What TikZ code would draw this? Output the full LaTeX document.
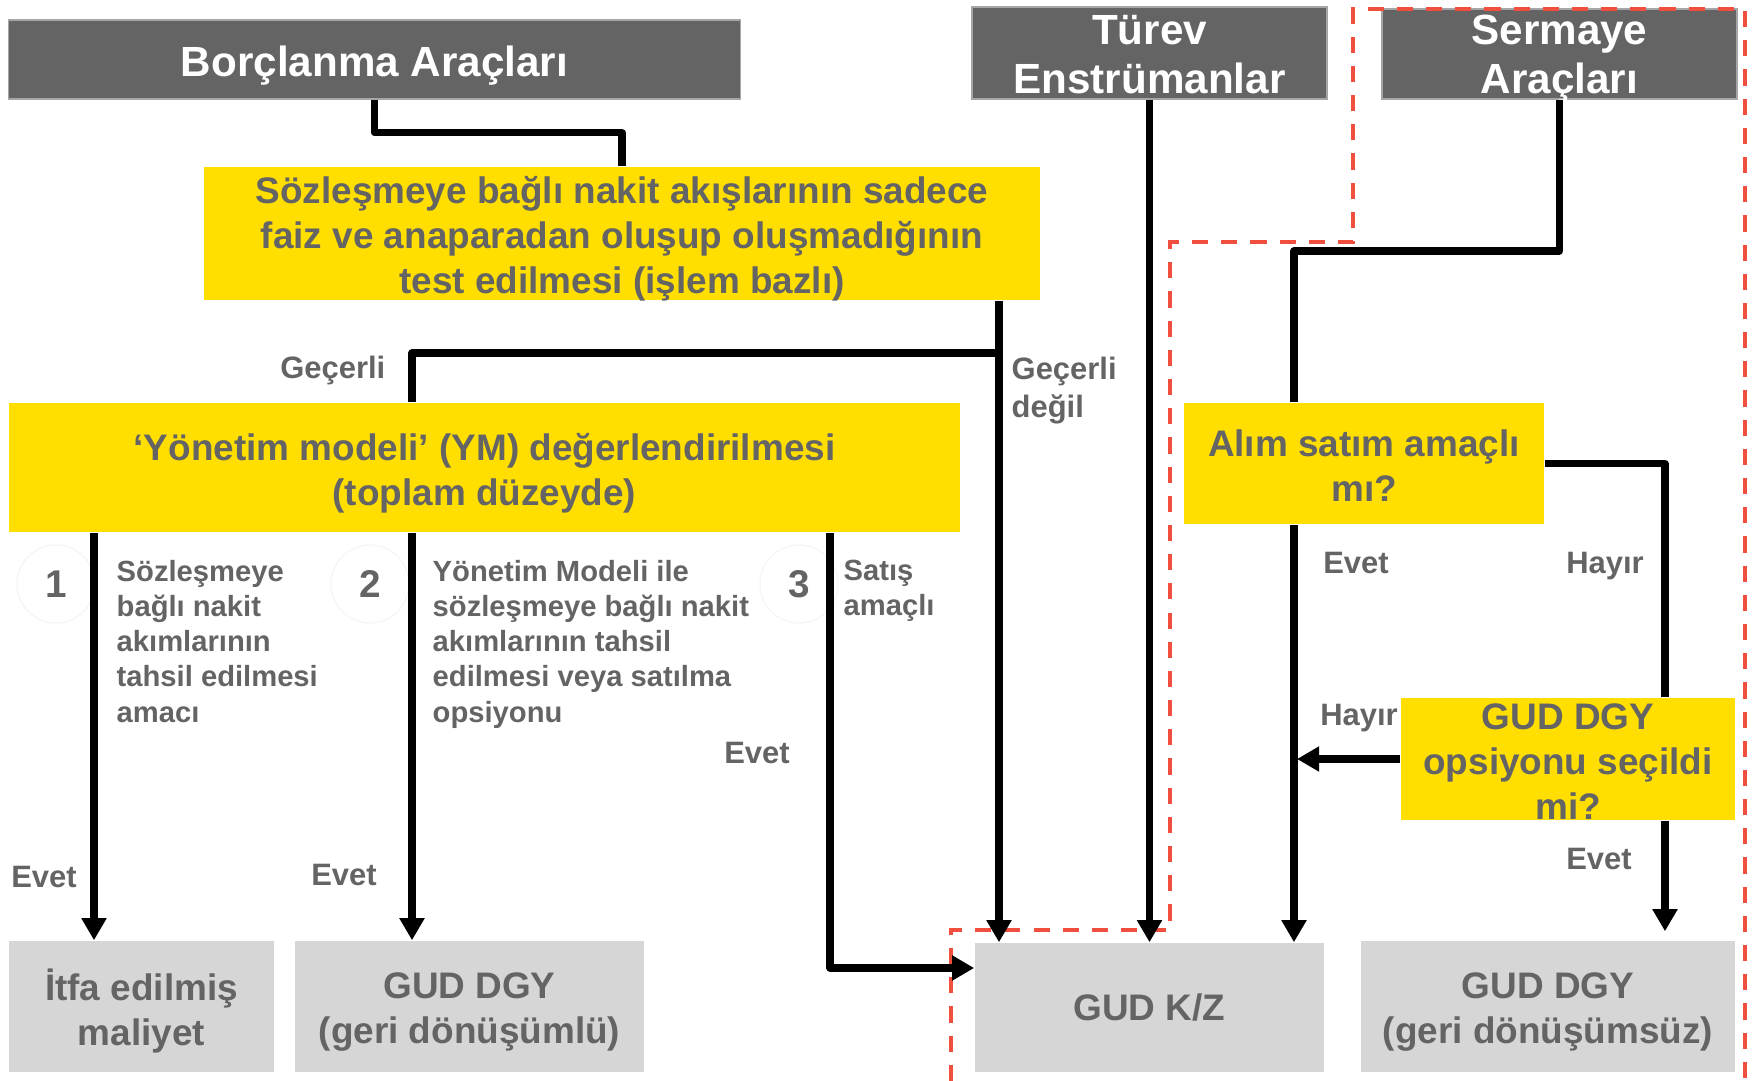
\documentclass[tikz,border=0pt]{standalone}
\usepackage{fontspec}
\setmainfont{Liberation Sans}
\usetikzlibrary{arrows.meta}
\definecolor{hdrgray}{RGB}{100,100,100}
\definecolor{txtgray}{RGB}{100,100,100}
\definecolor{boxyellow}{RGB}{255,222,0}
\definecolor{boxgray}{RGB}{214,214,214}
\definecolor{dashred}{RGB}{240,78,62}
\tikzset{
hdr/.style={fill=hdrgray, draw=gray!70, line width=0.4pt},
hdrtxt/.style={text=white, align=center, inner sep=0pt, font=\fontsize{12}{14}\selectfont\bfseries},
ybox/.style={fill=boxyellow},
gbox/.style={fill=boxgray},
btxt/.style={text=txtgray, align=center, inner sep=0pt, font=\fontsize{10.5}{12.8}\selectfont\bfseries},
lbl/.style={text=txtgray, inner sep=0pt, align=left, font=\fontsize{8.8}{10.8}\selectfont\bfseries},
desc/.style={text=txtgray, inner sep=0pt, align=left, anchor=north west, font=\fontsize{8.3}{10}\selectfont\bfseries},
numc/.style={circle, draw=gray!7, minimum size=0.78cm, text=txtgray, font=\fontsize{11}{13}\selectfont\bfseries},
conn/.style={line width=2pt, line join=round},
arr/.style={conn, -{Triangle[length=6.3pt,width=6.8pt]}},
reddash/.style={dashred, line width=1.1pt, dash pattern=on 4.6pt off 3.7pt}
}
\begin{document}
\begin{tikzpicture}[x=0.01cm, y=-0.01cm]
\useasboundingbox (0,0) rectangle (1756,1081);

%headers
\node[hdr, minimum width=7.31cm, minimum height=0.79cm] (borc) at (374.5,59.5) {};
\node[hdrtxt, yshift=-1.6pt] (borctxt) at (borc) {Borçlanma Araçları};
\node[hdr, minimum width=3.55cm, minimum height=0.92cm] (turev) at (1149.5,53) {};
\node[hdrtxt, yshift=-0.5pt] (turevtxt) at (turev) {Türev\\Enstrümanlar};
\node[hdr, minimum width=3.55cm, minimum height=0.90cm] (serm) at (1559.5,54) {};
\node[hdrtxt, yshift=-1.3pt] (sermtxt) at (serm) {Sermaye\\Araçları};

%yellow boxes
\node[ybox, minimum width=8.36cm, minimum height=1.33cm] (test) at (622,233.5) {};
\node[btxt, yshift=-1.6pt] (testtxt) at (test)
  {Sözleşmeye bağlı nakit akışlarının sadece\\faiz ve anaparadan oluşup oluşmadığının\\test edilmesi (işlem bazlı)};
\node[ybox, minimum width=9.51cm, minimum height=1.29cm] (ym) at (484.5,467.5) {};
\node[btxt, yshift=-1.6pt] (ymtxt) at (ym) {‘Yönetim modeli’ (YM) değerlendirilmesi\\(toplam düzeyde)};
\node[ybox, minimum width=3.60cm, minimum height=1.21cm] (alim) at (1364,463.5) {};
\node[btxt, yshift=-0.6pt] (alimtxt) at (alim) {Alım satım amaçlı\\mı?};
\node[ybox, minimum width=3.34cm, minimum height=1.22cm] (gudopt) at (1568,759) {};
\node[btxt, yshift=-0.6pt] (gudopttxt) at (gudopt) {GUD DGY\\opsiyonu seçildi\\mi?};

%results
\node[gbox, minimum width=2.65cm, minimum height=1.31cm] (itfa) at (141.5,1006.5) {};
\node[btxt, yshift=-1.3pt] (itfatxt) at (itfa) {İtfa edilmiş\\maliyet};
\node[gbox, minimum width=3.49cm, minimum height=1.31cm] (dgya) at (469.5,1006.5) {};
\node[btxt, yshift=-1.6pt] (dgyatxt) at (dgya) {GUD DGY\\(geri dönüşümlü)};
\node[gbox, minimum width=3.49cm, minimum height=1.29cm] (kz) at (1149.5,1007.5) {};
\node[btxt] (kztxt) at (kz) {GUD K/Z};
\node[gbox, minimum width=3.74cm, minimum height=1.31cm] (dgyb) at (1548,1006.5) {};
\node[btxt, yshift=-1.6pt] (dgybtxt) at (dgyb) {GUD DGY\\(geri dönüşümsüz)};

%numbers
\foreach \n/\x in {1/56,2/370,3/799}
{ \node[numc] (num\n) at (\x,584) {\n}; }

%texts
\node[desc] (da) at (116,559.5) {Sözleşmeye\\bağlı nakit\\akımlarının\\tahsil edilmesi\\amacı};
\node[desc] (db) at (432,559.5) {Yönetim Modeli ile\\sözleşmeye bağlı nakit\\akımlarının tahsil\\edilmesi veya satılma\\opsiyonu};
\node[desc] (dc) at (843,559.5) {Satış\\amaçlı};

%red frame
\draw[reddash] (951,1081) -- (951,930) -- (1170,930) -- (1170,242) -- (1353,242)
  -- (1353,9) -- (1745,9) -- (1745,1081);

%connectors
\coordinate (gec) at (999,353);
\draw[conn] (borc.south) -- ++(0,33) -| (test.north);
\draw[arr] (test.south -| gec) -- (kz.north -| gec);
\draw[conn] (gec) -| (ym.north -| 412,0);
\draw[arr] (ym.south -| 94,0) -- (itfa.north -| 94,0);
\draw[arr] (ym.south -| 412,0) -- (dgya.north -| 412,0);
\draw[arr] (ym.south -| 830,0) |- (kz.west |- 0,968);
\draw[arr] (turev.south) -- (kz.north);
\draw[conn] (serm.south) |- (1294,251) -- (alim.north -| 1294,0);
\draw[arr] (alim.south -| 1294,0) -- (kz.north -| 1294,0);
\draw[conn] (alim.east) -| (gudopt.north -| 1665,0);
\draw[arr, shorten >=0.09cm] (gudopt.south -| 1665,0) -- (dgyb.north -| 1665,0);
\draw[arr] (gudopt.west) -- (gudopt.west -| 1297,0);

%labels
\node[lbl, anchor=east] (lgec) at (386,370.5) {Geçerli};
\node[lbl, anchor=west] (lgecd) at (1011,390.5) {Geçerli\\değil};
\node[lbl] (le1) at (44,877) {Evet};
\node[lbl] (le2) at (344,875) {Evet};
\node[lbl] (le3) at (757,753) {Evet};
\node[lbl] (le4) at (1356,563) {Evet};
\node[lbl] (lh1) at (1605,566.5) {Hayır};
\node[lbl] (lh2) at (1359,718.5) {Hayır};
\node[lbl] (le5) at (1599,859) {Evet};
\end{tikzpicture}
\end{document}
